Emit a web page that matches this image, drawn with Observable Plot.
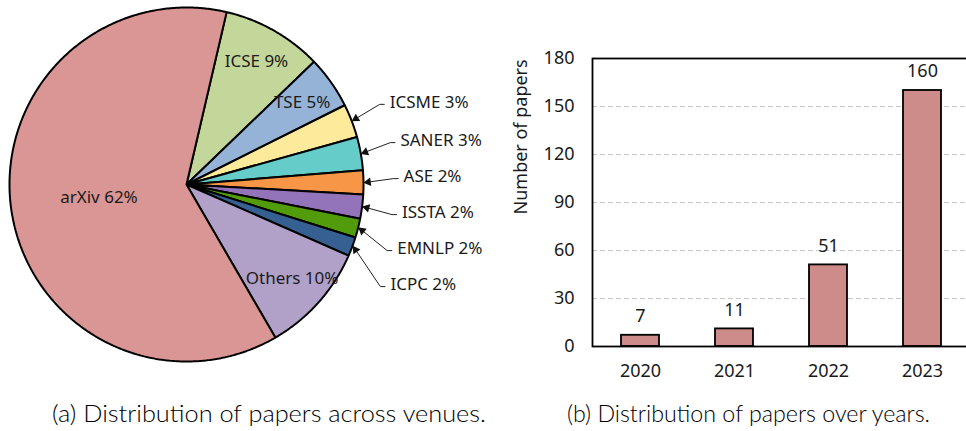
<!DOCTYPE html>
<html><head><meta charset="utf-8">
<script src="https://cdn.jsdelivr.net/npm/d3@7"></script>
<script src="https://cdn.jsdelivr.net/npm/@observablehq/plot@0.6"></script>
<style>
html,body{margin:0;padding:0;background:#fff;}
body{width:966px;height:431px;overflow:hidden;position:relative;font-family:"Noto Sans",sans-serif;}
#pie{position:absolute;left:0;top:0;width:500px;}
#bar{position:absolute;left:500px;top:0;width:475px;}
#pie svg,#bar svg{max-width:none !important;}
.cap{position:absolute;top:401px;font-family:Lato,"Noto Sans",sans-serif;font-weight:300;font-size:23px;line-height:25px;white-space:nowrap;transform-origin:0 0;color:#000;}
</style></head>
<body>
<div id="pie"></div><div id="bar"></div>
<div class="cap" id="capA"></div><div class="cap" id="capB"></div>
<script>
// ---- data ----
const venues = ["ICSE","TSE","ICSME","SANER","ASE","ISSTA","EMNLP","ICPC","Others","arXiv"];
const venueCounts = [21,11,7,7,5,5,4,4,23,142];
const venueColors = ["#C4D79B","#95B3D7","#FDEA9B","#66CCCA","#F79646","#9373BA","#529B0A","#366092","#B1A1C9","#D99694"];
const years = ["2020","2021","2022","2023"];
const paperCounts = [7,11,51,160];
const yTicks = [0,30,60,90,120,150,180];
const yLabel = "Number of papers";
const captionA = "(a) Distribution of papers across venues.";
const captionB = "(b) Distribution of papers over years.";

// ---- pie ----
const R = 177; // pie radius in px
const deg = Math.PI/180;
const start = 13.1*deg;
const total = d3.sum(venueCounts);
const pieData = venues.map((name,i)=>({name, count: venueCounts[i]}));
const arcs = d3.pie().sort(null).value(d=>d.count).startAngle(start).endAngle(start+2*Math.PI)(pieData);
const poly = [];
for (const a of arcs) {
  const n = Math.max(2, Math.ceil((a.endAngle-a.startAngle)/(0.5*deg)));
  poly.push({name:a.data.name, x:0, y:0});
  for (let k=0;k<=n;k++){
    const t = a.startAngle+(a.endAngle-a.startAngle)*k/n;
    poly.push({name:a.data.name, x:Math.sin(t), y:-Math.cos(t)});
  }
}
const labelOf = a => `${a.data.name} ${Math.round(a.data.count/total*100)}%`;
const inside = arcs.filter(a => a.data.count/total >= 0.045).map(a=>{
  const m = (a.startAngle+a.endAngle)/2;
  const rr = a.data.count/total > 0.5 ? 0.5 : 0.8;
  return {x: rr*Math.sin(m), y: -rr*Math.cos(m), text: labelOf(a)};
});
const outerArcs = arcs.filter(a => a.data.count/total < 0.045);
const outer = outerArcs.map(a=>{
  const m = (a.startAngle+a.endAngle)/2;
  return {m, kx: 1.17*Math.sin(m), ky: -1.17*Math.cos(m), tx: 1.01*Math.sin(m), ty: -1.01*Math.cos(m), text: labelOf(a)};
});
// spread labels vertically
const gap = 36/R;
const natMean = d3.mean(outer, d=>d.ky);
for (let i=1;i<outer.length;i++) outer[i].ky = Math.max(outer[i].ky, outer[i-1].ky+gap);
const shift = (d3.mean(outer, d=>d.ky) - natMean)/2;
outer.forEach(d=>{
  d.ky -= shift; d.kx2 = d.kx + 5/R;
  const vx = d.tx - d.kx, vy = d.ty - d.ky, L = Math.hypot(vx, vy);
  d.hx = d.tx - vx/L*3/R; d.hy = d.ty - vy/L*3/R;   // arrow head centre, 3px back from tip
  d.rot = Math.atan2(vx, -vy)/deg;                   // screen rotation (y down)
});

const pie = Plot.plot({
  width: 500, height: 380, margin: 0,
  x: {domain: [-186/R, 314/R], range: [0,500], axis: null},
  y: {domain: [-184/R, 196/R], range: [0,380], axis: null},
  color: {domain: venues, range: venueColors},
  style: {fontFamily: "'Noto Sans', sans-serif", fontSize: "17px", color: "#1a1a1a", background: "transparent", overflow: "visible"},
  marks: [
    Plot.line(poly, {x:"x", y:"y", z:"name", fill:"name", stroke:"black", strokeWidth:2, curve:"linear-closed", strokeLinejoin:"miter"}),
    Plot.text(inside, {x:"x", y:"y", text:"text", fontSize:17, fill:"#1a1a1a"}),
    Plot.link(outer, {x1:"kx", y1:"ky", x2:"kx2", y2:"ky", stroke:"#222", strokeWidth:1}),
    Plot.link(outer, {x1:"kx", y1:"ky", x2:"hx", y2:"hy", stroke:"#222", strokeWidth:1}),
    Plot.dot(outer, {x:"hx", y:"hy", symbol:"triangle", r:3.2, rotate:"rot", fill:"#111", stroke:"none"}),
    Plot.text(outer, {x:"kx", y:"ky", text:"text", textAnchor:"start", dx:10, dy:-2, fontSize:17, fill:"#1a1a1a"})
  ]
});
document.getElementById("pie").appendChild(pie);

// ---- bar ----
const barData = years.map((year,i)=>({year, count: paperCounts[i]}));
const bar = Plot.plot({
  width: 475, height: 390, marginLeft: 92, marginRight: 6, marginTop: 58, marginBottom: 44,
  x: {domain: years, paddingInner: 0.6, paddingOuter: 0.3, label: null},
  y: {domain: [0,180], label: null},
  style: {fontFamily: "'Noto Sans', sans-serif", fontSize: "18px", color: "#1a1a1a", background: "transparent", overflow: "visible"},
  marks: [
    Plot.gridY(yTicks.filter(v=>v>0 && v<180), {stroke:"#c8c8c8", strokeOpacity:1, strokeDasharray:"5,3"}),
    Plot.barY(barData, {x:"year", y:"count", fill:"#CD8B8A", stroke:"black", strokeWidth:1.8}),
    Plot.frame({stroke:"black", strokeWidth:1.8}),
    Plot.axisY({ticks: yTicks, tickSize:0, tickPadding:18, label:null, fontSize:18}),
    Plot.axisX({tickSize:0, tickPadding:18, label:null, fontSize:18}),
    Plot.text(barData, {x:"year", y:"count", text: d=>String(d.count), dy:-19, fontSize:18}),
    Plot.text([yLabel], {text: d=>d, frameAnchor:"left", dx:-66, dy:12, rotate:-90, lineAnchor:"bottom", fontSize:18})
  ]
});
document.getElementById("bar").appendChild(bar);

// ---- captions ----
function cap(id, text, left, width){
  const el = document.getElementById(id);
  el.textContent = text;
  el.style.left = left + "px";
  const w = el.getBoundingClientRect().width;
  el.style.transform = `scaleX(${width/w})`;
}
cap("capA", captionA, 52, 434);
cap("capB", captionB, 567, 363);
</script>
</body></html>
